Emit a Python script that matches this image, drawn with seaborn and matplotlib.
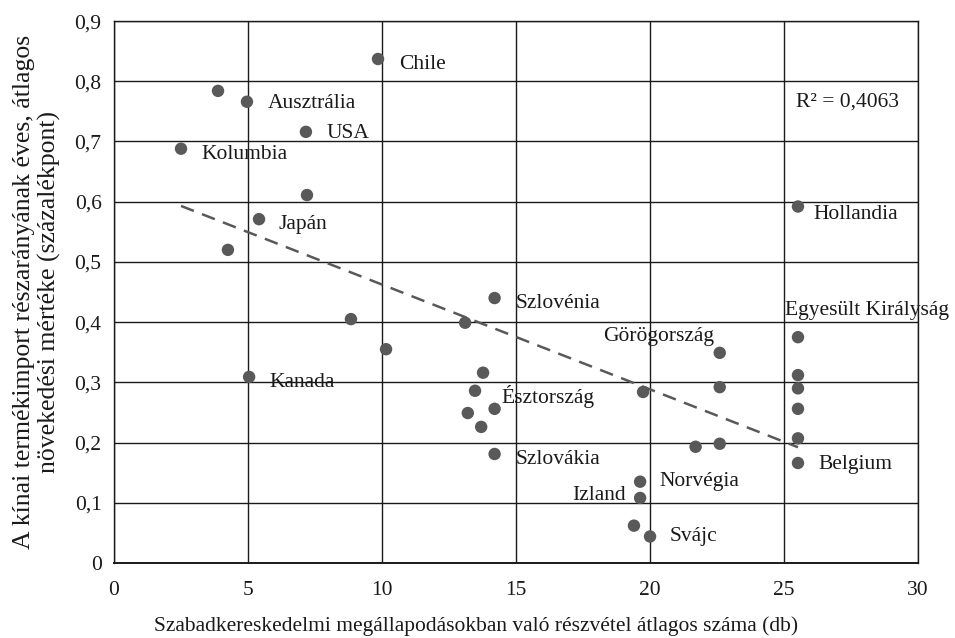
import numpy as np
import pandas as pd
import matplotlib
matplotlib.use("Agg")
import matplotlib.pyplot as plt
import seaborn as sns
from matplotlib.ticker import FuncFormatter

# Average number of free-trade agreements vs. growth of Chinese import share
countries = [
    "Chile", "", "Ausztrália", "USA", "Kolumbia", "", "Japán", "",
    "", "", "Kanada", "", "Szlovénia", "", "", "", "", "Észtország", "Szlovákia",
    "", "Görögország", "", "", "", "Norvégia", "Izland", "", "Svájc",
    "Egyesült Királyság", "", "", "", "", "Belgium", "Hollandia",
]
fta_count = [
    9.85, 3.88, 4.96, 7.16, 2.50, 7.20, 5.41, 4.25,
    8.84, 10.15, 5.04, 13.10, 14.20, 13.77, 13.47, 13.20, 13.70, 14.20, 14.20,
    19.74, 22.60, 22.60, 21.70, 22.60, 19.63, 19.63, 19.40, 20.00,
    25.52, 25.52, 25.52, 25.52, 25.52, 25.52, 25.52,
]
import_growth = [
    0.837, 0.784, 0.766, 0.716, 0.688, 0.611, 0.571, 0.520,
    0.405, 0.355, 0.309, 0.399, 0.440, 0.316, 0.286, 0.249, 0.226, 0.256, 0.181,
    0.284, 0.349, 0.292, 0.193, 0.198, 0.135, 0.108, 0.062, 0.044,
    0.375, 0.312, 0.290, 0.256, 0.207, 0.166, 0.592,
]

x_ticks = [0, 5, 10, 15, 20, 25, 30]
y_ticks = [0, 0.1, 0.2, 0.3, 0.4, 0.5, 0.6, 0.7, 0.8, 0.9]
r2_label = "R² = 0,4063"
x_title = "Szabadkereskedelmi megállapodásokban való részvétel átlagos száma (db)"
y_title = "A kínai termékimport részarányának éves, átlagos\nnövekedési mértéke (százalékpont)"

# label offsets in points (dx, dy) and horizontal alignment
label_style = {
    "Chile": (15, -4, "left"),
    "Ausztrália": (15, -1, "left"),
    "USA": (15, -1, "left"),
    "Kolumbia": (15, -4, "left"),
    "Japán": (14, -4, "left"),
    "Kanada": (15, -4, "left"),
    "Szlovénia": (15, -4, "left"),
    "Észtország": (5, 9, "left"),
    "Szlovákia": (15, -4, "left"),
    "Görögország": (-4, 12, "right"),
    "Norvégia": (14, 0, "left"),
    "Izland": (-10, 2, "right"),
    "Svájc": (14, 0, "left"),
    "Egyesült Királyság": (-9, 19, "left"),
    "Belgium": (15, -1, "left"),
    "Hollandia": (11, -6, "left"),
}

df = pd.DataFrame({"country": countries, "fta": fta_count, "growth": import_growth})

sns.set_theme(style="white")
plt.rcParams["font.family"] = ["Liberation Serif", "DejaVu Serif"]

fig = plt.figure(figsize=(9.55, 6.38), dpi=100)
ax = fig.add_axes([0.1194, 0.1176, 0.8419, 0.8494])

mark_color = "#595959"
text_color = "#1a1a1a"
label_size = 15.5

sns.regplot(data=df, x="fta", y="growth", ax=ax, scatter=False, ci=None,
            truncate=True,
            line_kws=dict(color=mark_color, lw=1.8, dashes=(5.5, 3.5)))
sns.scatterplot(data=df, x="fta", y="growth", ax=ax, s=80, color=mark_color,
                edgecolor="none", zorder=3)

for _, row in df.iterrows():
    if row["country"] in label_style:
        dx, dy, ha = label_style[row["country"]]
        ax.annotate(row["country"], (row["fta"], row["growth"]),
                    xytext=(dx, dy), textcoords="offset points",
                    ha=ha, va="center", fontsize=label_size, color=text_color,
                    annotation_clip=False)

ax.text(25.45, 0.765, r2_label, fontsize=label_size, color=text_color,
        ha="left", va="center")

ax.set_xlim(0, 30)
ax.set_ylim(0, 0.9)
ax.set_xticks(x_ticks)
ax.set_yticks(y_ticks)
ax.xaxis.set_major_formatter(FuncFormatter(lambda v, p: f"{v:g}"))
ax.yaxis.set_major_formatter(
    FuncFormatter(lambda v, p: f"{v:.1f}".replace(".", ",") if v > 0 else "0"))
ax.tick_params(axis="both", length=0, labelsize=label_size, labelcolor=text_color)
ax.tick_params(axis="x", pad=13)
ax.tick_params(axis="y", pad=9)

ax.grid(True, color=text_color, lw=1.0)
ax.set_axisbelow(True)
for side in ["left", "right", "top", "bottom"]:
    ax.spines[side].set_visible(True)
    ax.spines[side].set_color(text_color)
    ax.spines[side].set_linewidth(1.0)
ax.spines["bottom"].set_linewidth(1.4)

ax.set_xlabel(x_title, fontsize=15.5, color=text_color)
ax.xaxis.set_label_coords(0.45, -0.098)
ax.set_ylabel(y_title, fontsize=18.5, color=text_color, labelpad=10,
              linespacing=1.15)

fig.savefig("out.png", dpi=100, facecolor="white")
